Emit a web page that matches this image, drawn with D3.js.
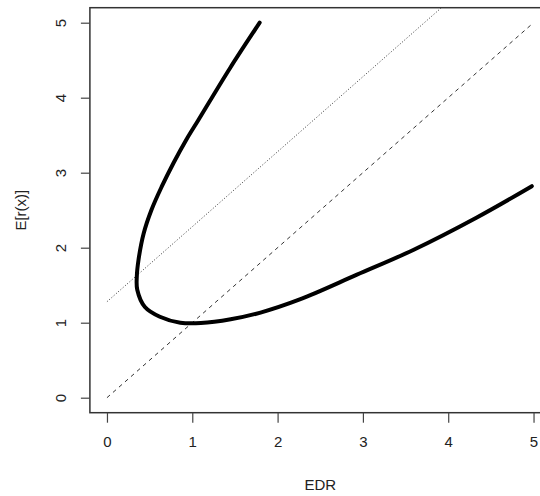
<!DOCTYPE html>
<meta charset="utf-8">
<head>
    <script type="text/javascript" src="https://d3js.org/d3.v7.min.js"></script>
    <style>
        body { margin: 0; background: #fff; }
        text { font-family: "Liberation Sans", Arial, sans-serif; fill: #222; }
    </style>
    <title>E[r(x)] vs EDR</title>
</head>
<body>
<script>
    // curve (EDR, E[r(x)])
    var curveEDR = [1.79, 1.44, 1.07, 0.93, 0.78, 0.64, 0.52, 0.43, 0.37, 0.35, 0.355, 0.445, 0.62, 0.86, 1.10, 1.45, 1.80, 2.26, 2.93, 3.59, 4.33, 4.98];
    var curveE   = [5.00, 4.39, 3.70, 3.44, 3.13, 2.81, 2.50, 2.19, 1.84, 1.62, 1.44, 1.21, 1.08, 1.00, 0.995, 1.045, 1.135, 1.31, 1.64, 1.97, 2.40, 2.82];

    // reference lines
    var dottedX = [0, 5], dottedY = [1.28, 6.28];
    var dashedX = [0, 5], dashedY = [0, 5];

    var ticks = [0, 1, 2, 3, 4, 5];

    var width = 540, height = 496;

    var svg = d3.select("body").append("svg")
        .attr("width", width)
        .attr("height", height);

    // R style: 4% padding around data range
    var x = d3.scaleLinear().domain([-0.2, 5.2]).range([89.9, 550.6]);
    var y = d3.scaleLinear().domain([-0.2, 5.2]).range([412.7, 7.7]);

    svg.append("clipPath").attr("id", "clip")
        .append("rect")
        .attr("x", x(-0.2)).attr("y", y(5.2))
        .attr("width", x(5.2) - x(-0.2)).attr("height", y(-0.2) - y(5.2));

    var plot = svg.append("g").attr("clip-path", "url(#clip)");

    var line = d3.line().x(d => x(d[0])).y(d => y(d[1]));

    plot.append("path")
        .datum(d3.zip(dottedX, dottedY))
        .attr("d", line)
        .attr("fill", "none")
        .attr("stroke", "#333")
        .attr("stroke-width", 1)
        .attr("stroke-dasharray", "1,2");

    plot.append("path")
        .datum(d3.zip(dashedX, dashedY))
        .attr("d", line)
        .attr("fill", "none")
        .attr("stroke", "#333")
        .attr("stroke-width", 1)
        .attr("stroke-dasharray", "4,4");

    plot.append("path")
        .datum(d3.zip(curveEDR, curveE))
        .attr("d", line.curve(d3.curveCatmullRom.alpha(0.5)))
        .attr("fill", "none")
        .attr("stroke", "#000")
        .attr("stroke-width", 4)
        .attr("stroke-linecap", "round")
        .attr("stroke-linejoin", "round");

    // box
    svg.append("rect")
        .attr("x", x(-0.2)).attr("y", y(5.2))
        .attr("width", x(5.2) - x(-0.2)).attr("height", y(-0.2) - y(5.2))
        .attr("fill", "none")
        .attr("stroke", "#333")
        .attr("stroke-width", 1.5);

    // axes
    var xAxis = svg.append("g")
        .attr("transform", "translate(0," + y(-0.2) + ")")
        .call(d3.axisBottom(x).tickValues(ticks).tickSize(10).tickPadding(14).tickFormat(d3.format("d")));
    var yAxis = svg.append("g")
        .attr("transform", "translate(" + x(-0.2) + ",0)")
        .call(d3.axisLeft(y).tickValues(ticks).tickSize(9).tickFormat(d3.format("d")));

    [xAxis, yAxis].forEach(function (g) {
        g.select(".domain").remove();
        g.selectAll(".tick line").attr("stroke", "#444").attr("stroke-width", 1.2);
        g.selectAll(".tick text").style("font-size", "15px").attr("fill", "#222");
    });

    yAxis.selectAll(".tick text")
        .attr("x", null).attr("dy", null)
        .attr("text-anchor", "middle")
        .attr("transform", "translate(-29,0) rotate(-90)")
        .attr("dy", "0.35em");

    svg.append("text")
        .attr("x", (x(-0.2) + x(5.2)) / 2)
        .attr("y", 490)
        .attr("text-anchor", "middle")
        .style("font-size", "15px")
        .text("EDR");

    svg.append("text")
        .attr("transform", "translate(26," + (y(-0.2) + y(5.2)) / 2 + ") rotate(-90)")
        .attr("text-anchor", "middle")
        .style("font-size", "15px")
        .text("E[r(x)]");
</script>
</body>
</html>
